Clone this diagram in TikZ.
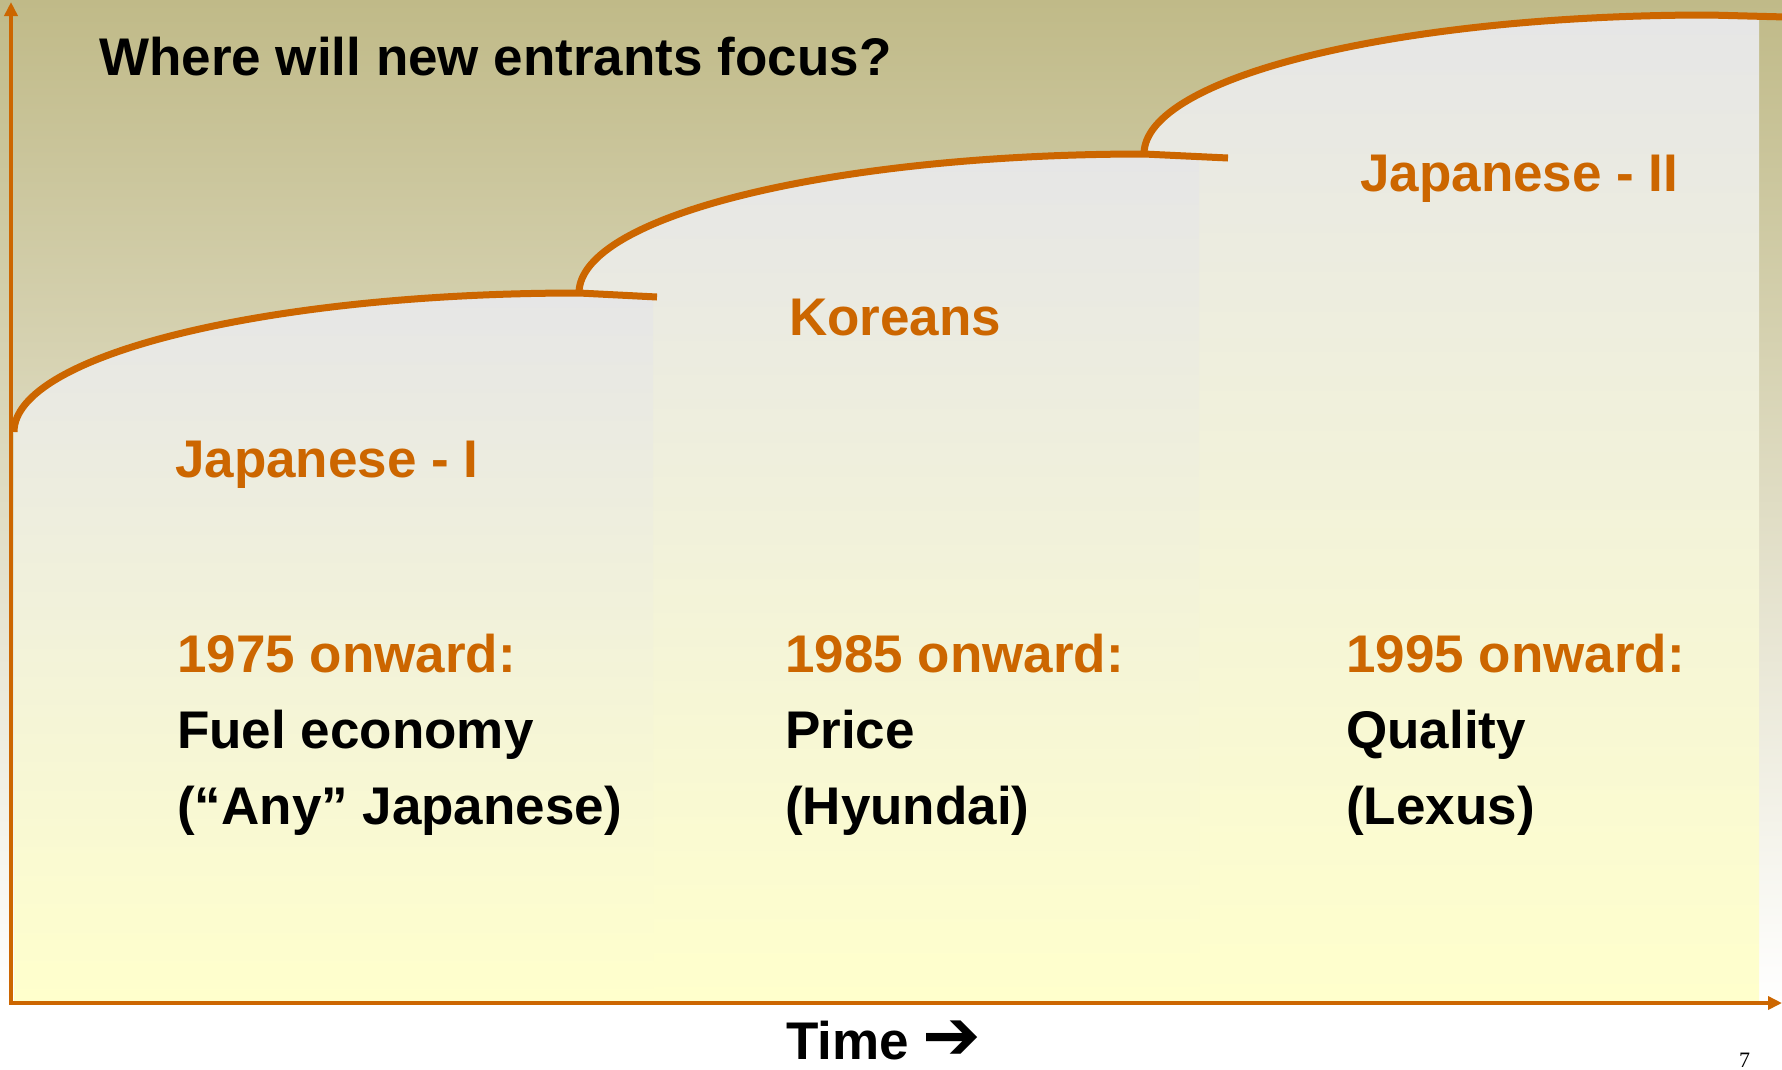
\documentclass[tikz,border=0pt]{standalone}
\usepackage{fontspec}
\setmainfont{Liberation Sans}
\newfontfamily\dejavu{DejaVu Sans}
\newfontfamily\serifnum{Liberation Serif}
\usetikzlibrary{arrows.meta}
\definecolor{khaki}{RGB}{192,186,136}
\definecolor{rust}{RGB}{204,102,0}
\definecolor{pgray}{RGB}{230,230,230}
\definecolor{pyellow}{RGB}{255,255,204}
\begin{document}
\begin{tikzpicture}[x=1pt,y=-1pt,
  lbl/.style={anchor=base west, inner sep=0pt, font=\fontsize{53}{60}\selectfont\bfseries},
  olbl/.style={lbl, text=rust},
  curve/.style={draw=rust, line width=7pt},
  axisline/.style={draw=rust, line width=4pt, -{Triangle[length=14pt,width=13pt]}},
  region/.style={top color=pgray, bottom color=pyellow, draw=none},
  step arc/.style={start angle=180, end angle=270, x radius=565, y radius=139}]

\useasboundingbox (0,0) rectangle (1782,1069);
\fill[white] (0,0) rectangle (1782,1069);
\shade[top color=khaki, bottom color=white] (0,0) rectangle (1782,1003);

% regions (back to front)
\shade[region] (1144,1003) -- (1144,154) arc[step arc] -- (1759,15.5) -- (1759,1003) -- cycle;
\shade[region] (579,1003) -- (579,293) arc[step arc] -- (1199,156.5) -- (1199,1003) -- cycle;
\shade[region] (14,1003) -- (14,432) arc[step arc] -- (653,296.8) -- (653,1003) -- cycle;

% step curves
\coordinate (c1s) at (14,432);
\coordinate (c2s) at (579,293);
\coordinate (c3s) at (1144,154);
\draw[curve] (c1s) arc[step arc] -- (657,297);
\draw[curve] (c2s) arc[step arc] -- (1228,158);
\draw[curve] (c3s) arc[step arc] -- (1786,17);

% axes
\coordinate (origin) at (11,1003);
\coordinate (ytop) at (11,2);
\coordinate (xend) at (1782,1003);
\coordinate (xstart) at (9,1003);
\draw[axisline] ([yshift=2pt]origin) -- (ytop);
\draw[axisline] (xstart) -- (xend);

% texts
\node[lbl] (title) at (99,75) {Where will new entrants focus?};
\node[olbl] (jap1) at (175,477) {Japanese - I};
\node[olbl] (kor) at (789,335) {Koreans};
\node[olbl] (jap2) at (1360,191) {Japanese - II};

\node[olbl] (y75) at (177,672) {1975 onward:};
\node[lbl] (f75a) at (177,748) {Fuel economy};
\node[lbl] (f75b) at (177,824) {(“Any” Japanese)};

\node[olbl] (y85) at (785,672) {1985 onward:};
\node[lbl] (f85a) at (785,748) {Price};
\node[lbl] (f85b) at (785,824) {(Hyundai)};

\node[olbl] (y95) at (1346,672) {1995 onward:};
\node[lbl] (f95a) at (1346,748) {Quality};
\node[lbl] (f95b) at (1346,824) {(Lexus)};

\node[lbl, text depth=0pt] (time) at (786,1059) {Time\hspace{14pt}{\dejavu\bfseries\fontsize{70}{70}\selectfont ➔}};
\node[anchor=base west, inner sep=0pt, text depth=0pt, font=\serifnum\fontsize{22}{22}\selectfont] (pg) at (1739,1067) {7};
\end{tikzpicture}
\end{document}
